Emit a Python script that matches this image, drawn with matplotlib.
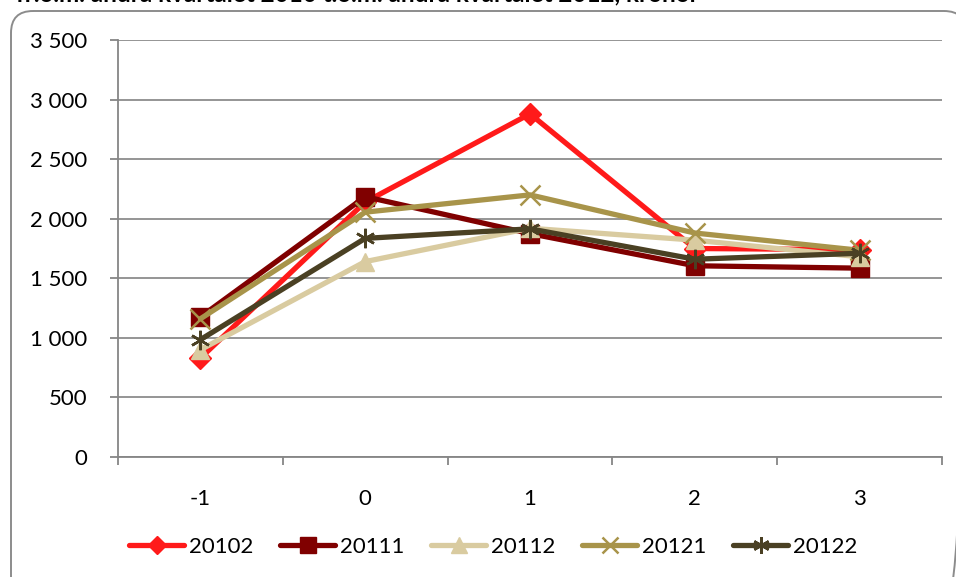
import matplotlib
matplotlib.use("Agg")
import matplotlib.pyplot as plt
from matplotlib.patches import FancyBboxPatch

periods = [-1, 0, 1, 2, 3]
series_names = ["20102", "20111", "20112", "20121", "20122"]
s20102 = [830, 2140, 2880, 1750, 1740]
s20111 = [1175, 2185, 1875, 1605, 1585]
s20112 = [900, 1640, 1920, 1820, 1680]
s20121 = [1160, 2055, 2200, 1880, 1735]
s20122 = [985, 1835, 1915, 1660, 1710]
yticks = [0, 500, 1000, 1500, 2000, 2500, 3000, 3500]
ytick_labels = ["0", "500", "1 000", "1 500", "2 000", "2 500", "3 000", "3 500"]

colors = ["#FF1A1A", "#800000", "#D9CBA0", "#A8944A", "#4A4023"]
markers = ["D", "s", "^", "x", (6, 2, 0)]
msizes = [11, 13, 13, 14, 14]

plt.rcParams['font.family'] = ['Lato', 'DejaVu Sans']

fig = plt.figure(figsize=(9.56, 5.77), dpi=100)
W, H = 956, 577

# background overlay axes in pixel units for the rounded border
bg = fig.add_axes([0, 0, 1, 1], zorder=0)
bg.set_xlim(0, W)
bg.set_ylim(H, 0)
bg.axis("off")
bg.add_patch(FancyBboxPatch((11, 11), 955, 600,
                            boxstyle="round,pad=0,rounding_size=22",
                            facecolor="none", edgecolor="#8C8C8C",
                            linewidth=1.4, clip_on=False))

ax = fig.add_axes([118 / W, 1 - 457 / H, (942 - 118) / W, (457 - 40) / H], zorder=1)
ax.patch.set_alpha(0)

fig.text(357 / W, 1 - 1 / H, "fr.o.m. andra kvartalet 2010 t.o.m. andra kvartalet 2012, kronor",
         ha="center", va="baseline", fontsize=17.5, fontweight="bold", color="black")

data = [s20102, s20111, s20112, s20121, s20122]
for name, vals, c, m, ms in zip(series_names, data, colors, markers, msizes):
    mew = 1.8 if (m == "x" or isinstance(m, tuple)) else 1
    ax.plot(periods, vals, color=c, linewidth=3.8, marker=m, markersize=ms,
            markerfacecolor=c, markeredgecolor=c, markeredgewidth=mew,
            label=name, solid_joinstyle="round", solid_capstyle="round", zorder=3)

ax.set_xlim(-1.5, 3.5)
ax.set_ylim(0, 3500)
ax.set_yticks(yticks)
ax.set_yticklabels(ytick_labels)
ax.set_xticks(periods)
ax.set_xticklabels([str(p) for p in periods])
ax.set_xticks([-1.5, -0.5, 0.5, 1.5, 2.5, 3.5], minor=True)
ax.tick_params(axis="x", which="major", length=0, pad=23, labelsize=16)
ax.tick_params(axis="x", which="minor", length=6, color="#868686", width=1.3)
ax.tick_params(axis="y", which="major", length=6, color="#868686", width=1.3,
               labelsize=16, pad=16)
ax.grid(axis="y", color="#8C8C8C", linewidth=1.3, zorder=0)
ax.set_axisbelow(True)
for side in ["top", "right"]:
    ax.spines[side].set_visible(False)
for side in ["left", "bottom"]:
    ax.spines[side].set_color("#868686")
    ax.spines[side].set_linewidth(1.3)

leg = fig.legend(loc="center", bbox_to_anchor=(493 / W, 1 - 547 / H), ncol=5,
                 frameon=False, fontsize=16, handlelength=2.5, handletextpad=0.2,
                 columnspacing=1.2, markerscale=0.85)

fig.savefig("out.png", dpi=100)
